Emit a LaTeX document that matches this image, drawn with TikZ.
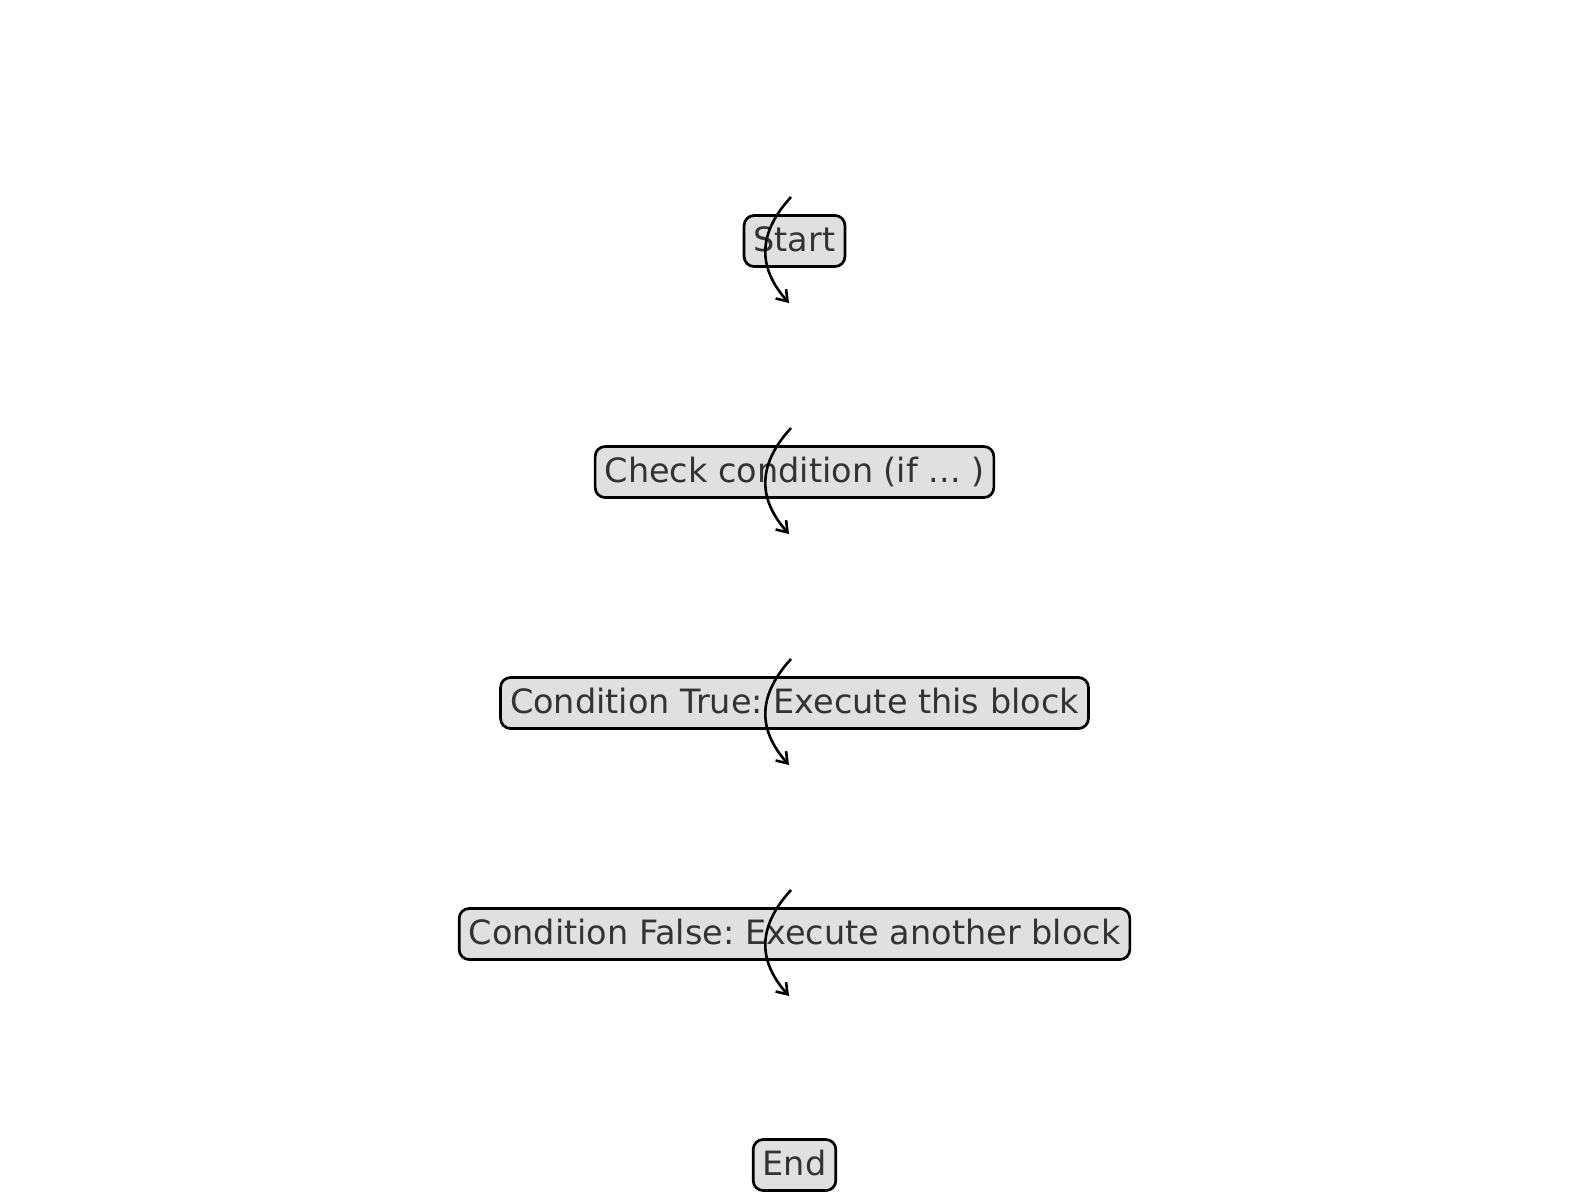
\documentclass[tikz,border=0pt]{standalone}
\usepackage{fontspec}
\setmainfont{DejaVu Sans}
\usetikzlibrary{arrows.meta}
\frenchspacing
\definecolor{boxfill}{HTML}{E0E0E0}
\definecolor{boxtext}{HTML}{333333}
\tikzset{
  flowbox/.style={draw=black, fill=boxfill, text=boxtext, line width=2.7pt,
    rounded corners=10pt, inner xsep=9.5pt, inner ysep=0pt,
    minimum height=51pt, text height=25.5pt, text depth=5.5pt,
    font=\fontsize{33.5}{40}\selectfont},
  flowarrow/.style={line width=2.6pt, -{Straight Barb[length=10pt,width=14pt,line width=2.6pt]}}
}
\begin{document}
\begin{tikzpicture}[x=1pt,y=-1pt]
\useasboundingbox (0,0) rectangle (1589,1202);
\node[flowbox] (start) at (794.5,241) {Start};
\node[flowbox] (check) at (794.5,472) {Check condition (if ... )};
\node[flowbox] (true) at (794.5,703) {Condition True: Execute this block};
\node[flowbox] (false) at (794.5,934) {Condition False: Execute another block};
\node[flowbox] (end) at (794.5,1165) {End};
\foreach \n in {start,check,true,false}{
  \coordinate (\n-a) at ([xshift=-3.5pt,yshift=44pt]\n.center);
  \coordinate (\n-b) at ([xshift=-5.5pt,yshift=-62pt]\n.center);
  \draw[flowarrow] (\n-a) .. controls ([xshift=-33pt,yshift=-36pt]\n-a) and ([xshift=-32pt,yshift=36pt]\n-b) .. (\n-b);
}
\end{tikzpicture}
\end{document}
